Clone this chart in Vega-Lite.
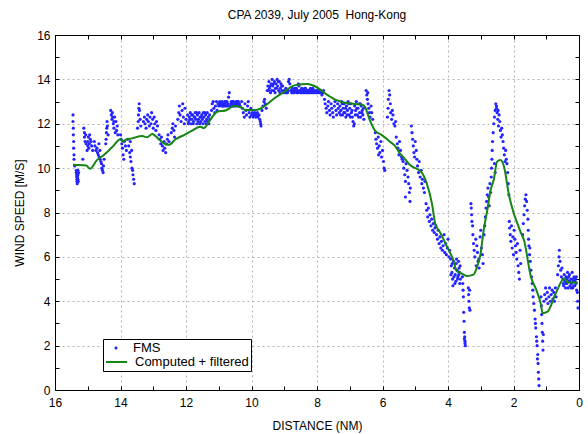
{
  "$schema": "https://vega.github.io/schema/vega-lite/v6.json",
  "width": 524,
  "height": 355,
  "autosize": "none",
  "padding": {"left": 55, "top": 35, "right": 9, "bottom": 44},
  "background": "white",
  "title": {"text": "CPA 2039, July 2005\u00a0 Hong-Kong", "fontSize": 12, "fontWeight": "normal", "font": "Liberation Sans", "color": "black", "offset": 7},
  "config": {"font": "Liberation Sans", "view": {"stroke": "black"}},
  "datasets": {
    "fms": [
      {"d":15.45,"s":12.4},{"d":15.45,"s":12.1},{"d":15.44,"s":11.8},{"d":15.44,"s":11.5},{"d":15.43,"s":11.2},{"d":15.43,"s":10.9},{"d":15.42,"s":10.6},{"d":15.42,"s":10.4},{"d":15.4,"s":10.1},{"d":15.35,"s":9.9},{"d":15.35,"s":9.8},{"d":15.34,"s":9.7},{"d":15.34,"s":9.6},{"d":15.33,"s":9.5},{"d":15.33,"s":9.4},{"d":15.32,"s":9.3},{"d":15.3,"s":9.9},{"d":15.3,"s":9.7},{"d":15.3,"s":9.5},{"d":15.29,"s":9.4},{"d":15.31,"s":9.6},{"d":15.28,"s":9.8},
      {"d":15.15,"s":10.4},{"d":15.12,"s":11.8},{"d":15.1,"s":11.6},{"d":15.1,"s":11.4},{"d":15.08,"s":11.2},{"d":15.05,"s":11.1},{"d":15.02,"s":10.8},{"d":15.0,"s":11.2},{"d":15.0,"s":11.0},{"d":14.98,"s":11.4},{"d":14.97,"s":10.9},{"d":14.95,"s":11.1},{"d":14.92,"s":11.3},{"d":14.9,"s":11.2},{"d":14.88,"s":11.0},{"d":14.85,"s":10.8},{"d":15.06,"s":11.5},{"d":14.94,"s":11.5},
      {"d":14.8,"s":11.2},{"d":14.78,"s":11.0},{"d":14.75,"s":10.8},{"d":14.72,"s":10.9},{"d":14.7,"s":10.7},{"d":14.68,"s":10.6},{"d":14.66,"s":11.1},{"d":14.65,"s":10.5},{"d":14.63,"s":10.8},{"d":14.62,"s":10.4},{"d":14.6,"s":10.3},{"d":14.58,"s":10.2},{"d":14.57,"s":10.0},{"d":14.55,"s":9.9},{"d":14.53,"s":9.8},{"d":14.52,"s":10.1},{"d":14.5,"s":10.4},
      {"d":14.45,"s":11.1},{"d":14.44,"s":11.3},{"d":14.43,"s":11.6},{"d":14.42,"s":11.8},{"d":14.41,"s":12.1},{"d":14.4,"s":11.9},{"d":14.38,"s":11.5},
      {"d":14.3,"s":12.6},{"d":14.28,"s":12.4},{"d":14.26,"s":12.2},{"d":14.25,"s":12.5},{"d":14.22,"s":12.0},{"d":14.2,"s":11.8},{"d":14.18,"s":12.3},{"d":14.16,"s":11.6},{"d":14.14,"s":12.1},{"d":14.12,"s":11.7},{"d":14.1,"s":11.9},{"d":14.08,"s":11.5},{"d":14.24,"s":12.3},{"d":14.2,"s":12.1},
      {"d":14.0,"s":11.5},{"d":13.98,"s":11.3},{"d":13.96,"s":11.1},{"d":13.94,"s":10.9},{"d":13.92,"s":10.6},{"d":13.9,"s":10.4},{"d":13.88,"s":11.2},{"d":13.85,"s":11.0},{"d":13.82,"s":10.8},
      {"d":13.78,"s":11.3},{"d":13.75,"s":11.0},{"d":13.72,"s":10.7},{"d":13.7,"s":10.5},{"d":13.7,"s":11.2},{"d":13.68,"s":10.3},{"d":13.66,"s":10.8},{"d":13.65,"s":10.0},{"d":13.63,"s":9.9},{"d":13.62,"s":9.7},{"d":13.6,"s":9.5},{"d":13.58,"s":9.3},
      {"d":13.48,"s":11.8},{"d":13.46,"s":12.1},{"d":13.45,"s":12.4},{"d":13.44,"s":12.7},{"d":13.43,"s":12.9},{"d":13.42,"s":12.6},{"d":13.4,"s":12.2},{"d":13.38,"s":11.9},
      {"d":13.3,"s":12.1},{"d":13.27,"s":12.3},{"d":13.25,"s":12.0},{"d":13.22,"s":11.8},{"d":13.2,"s":12.2},{"d":13.17,"s":12.4},{"d":13.15,"s":12.1},{"d":13.12,"s":11.9},{"d":13.1,"s":12.3},{"d":13.07,"s":12.0},{"d":13.05,"s":12.5},{"d":13.02,"s":12.2},{"d":13.0,"s":11.8},{"d":12.97,"s":12.3},{"d":12.95,"s":12.0},{"d":12.92,"s":11.7},{"d":12.9,"s":12.1},{"d":12.87,"s":11.9},
      {"d":12.82,"s":11.5},{"d":12.8,"s":11.3},{"d":12.77,"s":11.1},{"d":12.75,"s":11.4},{"d":12.72,"s":11.0},{"d":12.7,"s":10.8},{"d":12.67,"s":11.2},{"d":12.65,"s":10.9},{"d":12.62,"s":10.7},{"d":12.6,"s":11.1},{"d":12.57,"s":11.3},{"d":12.55,"s":11.5},{"d":12.52,"s":11.2},
      {"d":12.45,"s":11.6},{"d":12.42,"s":11.8},{"d":12.4,"s":12.0},{"d":12.37,"s":11.7},{"d":12.35,"s":11.4},{"d":12.32,"s":11.9},
      {"d":12.25,"s":12.2},{"d":12.22,"s":12.5},{"d":12.2,"s":12.8},{"d":12.18,"s":12.4},{"d":12.15,"s":12.1},{"d":12.12,"s":12.6},{"d":12.1,"s":12.9},{"d":12.08,"s":12.3},{"d":12.05,"s":12.0},{"d":12.03,"s":12.7},{"d":12.0,"s":12.2},
      {"d":11.95,"s":12.4},{"d":11.92,"s":12.1},{"d":11.9,"s":12.3},{"d":11.87,"s":12.5},{"d":11.85,"s":12.0},{"d":11.82,"s":12.2},{"d":11.8,"s":12.4},{"d":11.77,"s":12.1},{"d":11.75,"s":12.3},{"d":11.72,"s":12.5},{"d":11.7,"s":12.2},{"d":11.67,"s":12.0},{"d":11.65,"s":12.4},{"d":11.62,"s":12.2},{"d":11.6,"s":12.5},{"d":11.57,"s":12.3},{"d":11.55,"s":12.1},{"d":11.52,"s":12.4},{"d":11.5,"s":12.2},{"d":11.47,"s":12.5},{"d":11.45,"s":12.3},{"d":11.42,"s":12.1},{"d":11.4,"s":12.4},{"d":11.37,"s":12.2},{"d":11.35,"s":12.5},{"d":11.32,"s":12.3},{"d":11.3,"s":12.0},{"d":11.27,"s":12.2},
      {"d":11.93,"s":12.0},{"d":11.88,"s":12.2},{"d":11.83,"s":12.4},{"d":11.78,"s":12.0},{"d":11.73,"s":12.3},{"d":11.68,"s":12.5},{"d":11.63,"s":12.1},{"d":11.58,"s":12.0},{"d":11.53,"s":12.3},{"d":11.48,"s":12.0},{"d":11.43,"s":12.5},{"d":11.38,"s":12.0},{"d":11.33,"s":12.1},{"d":11.28,"s":12.4},
      {"d":11.22,"s":12.6},{"d":11.2,"s":12.9},{"d":11.17,"s":13.0},{"d":11.15,"s":12.7},{"d":11.12,"s":12.5},{"d":11.1,"s":12.8},{"d":11.07,"s":13.0},{"d":11.05,"s":12.6},
      {"d":11.02,"s":12.9},{"d":11.0,"s":12.8},{"d":10.97,"s":13.0},{"d":10.95,"s":12.9},{"d":10.92,"s":12.8},{"d":10.9,"s":13.0},{"d":10.87,"s":12.9},{"d":10.85,"s":12.8},{"d":10.82,"s":13.0},{"d":10.8,"s":12.9},{"d":10.77,"s":12.8},{"d":10.75,"s":13.0},{"d":10.72,"s":12.9},{"d":10.7,"s":13.2},{"d":10.68,"s":13.4},{"d":10.65,"s":12.8},{"d":10.62,"s":13.0},{"d":10.6,"s":12.9},{"d":10.57,"s":12.8},{"d":10.55,"s":13.0},{"d":10.52,"s":12.9},{"d":10.5,"s":12.8},{"d":10.47,"s":13.0},{"d":10.45,"s":12.9},{"d":10.42,"s":12.8},{"d":10.4,"s":13.0},{"d":10.37,"s":12.9},{"d":10.35,"s":12.8},
      {"d":10.99,"s":12.9},{"d":10.93,"s":12.9},{"d":10.88,"s":12.8},{"d":10.83,"s":12.8},{"d":10.78,"s":13.0},{"d":10.73,"s":12.8},{"d":10.63,"s":12.9},{"d":10.58,"s":13.0},{"d":10.53,"s":12.8},{"d":10.48,"s":12.9},{"d":10.43,"s":13.0},{"d":10.38,"s":12.8},
      {"d":10.3,"s":13.0},{"d":10.28,"s":12.7},{"d":10.25,"s":12.5},{"d":10.22,"s":12.3},{"d":10.2,"s":12.9},{"d":10.17,"s":12.6},{"d":10.15,"s":12.4},{"d":10.12,"s":12.8},{"d":10.1,"s":13.0},{"d":10.07,"s":12.5},{"d":10.05,"s":12.3},{"d":10.02,"s":12.7},
      {"d":10.0,"s":12.4},{"d":9.97,"s":12.5},{"d":9.95,"s":12.3},{"d":9.92,"s":12.4},{"d":9.9,"s":12.5},{"d":9.87,"s":12.3},{"d":9.85,"s":12.4},{"d":9.82,"s":12.5},{"d":9.8,"s":12.3},{"d":9.77,"s":12.4},{"d":9.75,"s":12.2},{"d":9.73,"s":12.1},{"d":9.72,"s":12.0},{"d":9.71,"s":11.9},
      {"d":9.68,"s":12.6},{"d":9.65,"s":12.8},{"d":9.62,"s":13.0},{"d":9.6,"s":13.1},{"d":9.58,"s":12.9},{"d":9.55,"s":12.7},
      {"d":9.52,"s":13.5},{"d":9.5,"s":13.7},{"d":9.47,"s":13.9},{"d":9.45,"s":13.6},{"d":9.42,"s":13.4},{"d":9.4,"s":13.8},{"d":9.37,"s":14.0},{"d":9.35,"s":13.7},{"d":9.32,"s":13.5},{"d":9.3,"s":13.9},{"d":9.27,"s":13.6},{"d":9.25,"s":13.8},{"d":9.22,"s":14.0},{"d":9.2,"s":13.7},{"d":9.17,"s":13.5},{"d":9.15,"s":13.9},{"d":9.12,"s":13.6},{"d":9.1,"s":13.8},{"d":9.07,"s":13.5},{"d":9.05,"s":13.7},{"d":9.02,"s":13.4},
      {"d":9.48,"s":13.5},{"d":9.43,"s":13.7},{"d":9.38,"s":13.5},{"d":9.33,"s":13.8},{"d":9.28,"s":13.4},{"d":9.23,"s":13.6},{"d":9.18,"s":13.9},{"d":9.13,"s":13.4},{"d":9.08,"s":13.7},
      {"d":9.0,"s":13.5},{"d":8.97,"s":13.4},{"d":8.95,"s":13.6},{"d":8.92,"s":13.5},{"d":8.9,"s":13.4},{"d":8.87,"s":13.9},{"d":8.85,"s":14.0},{"d":8.83,"s":13.8},{"d":8.8,"s":13.5},{"d":8.77,"s":13.4},{"d":8.75,"s":13.6},{"d":8.72,"s":13.5},{"d":8.7,"s":13.4},{"d":8.67,"s":13.6},{"d":8.65,"s":13.5},{"d":8.62,"s":13.4},{"d":8.6,"s":13.5},{"d":8.57,"s":13.8},{"d":8.55,"s":13.7},{"d":8.52,"s":13.5},{"d":8.5,"s":13.4},{"d":8.47,"s":13.6},{"d":8.45,"s":13.5},{"d":8.42,"s":13.4},{"d":8.4,"s":13.5},{"d":8.37,"s":13.4},{"d":8.35,"s":13.6},{"d":8.32,"s":13.5},{"d":8.3,"s":13.4},{"d":8.27,"s":13.5},{"d":8.25,"s":13.4},{"d":8.22,"s":13.5},{"d":8.2,"s":13.6},{"d":8.17,"s":13.4},{"d":8.15,"s":13.5},{"d":8.12,"s":13.4},{"d":8.1,"s":13.5},
      {"d":8.98,"s":13.5},{"d":8.93,"s":13.4},{"d":8.88,"s":13.5},{"d":8.78,"s":13.5},{"d":8.73,"s":13.4},{"d":8.68,"s":13.5},{"d":8.63,"s":13.6},{"d":8.58,"s":13.4},{"d":8.53,"s":13.5},{"d":8.48,"s":13.4},{"d":8.43,"s":13.5},{"d":8.38,"s":13.6},{"d":8.33,"s":13.4},{"d":8.28,"s":13.5},{"d":8.23,"s":13.4},{"d":8.18,"s":13.5},{"d":8.13,"s":13.6},
      {"d":8.07,"s":13.4},{"d":8.05,"s":13.5},{"d":8.02,"s":13.4},{"d":8.0,"s":13.5},{"d":7.97,"s":13.4},{"d":7.95,"s":13.5},{"d":7.92,"s":13.4},{"d":7.9,"s":13.5},{"d":7.87,"s":13.4},{"d":7.85,"s":13.3},{"d":7.82,"s":13.4},{"d":7.8,"s":13.5},
      {"d":7.77,"s":13.1},{"d":7.75,"s":12.9},{"d":7.72,"s":12.7},{"d":7.7,"s":12.5},{"d":7.67,"s":12.8},{"d":7.65,"s":13.0},{"d":7.62,"s":12.6},{"d":7.6,"s":12.4},{"d":7.57,"s":12.9},{"d":7.55,"s":12.7},{"d":7.52,"s":12.5},{"d":7.5,"s":12.3},{"d":7.47,"s":12.8},{"d":7.45,"s":13.0},{"d":7.42,"s":12.6},{"d":7.4,"s":12.4},{"d":7.37,"s":12.9},{"d":7.35,"s":12.7},{"d":7.32,"s":12.5},
      {"d":7.3,"s":12.8},{"d":7.27,"s":12.6},{"d":7.25,"s":13.0},{"d":7.22,"s":12.4},{"d":7.2,"s":12.7},{"d":7.17,"s":12.9},{"d":7.15,"s":12.5},{"d":7.12,"s":12.3},{"d":7.1,"s":12.8},{"d":7.07,"s":12.6},{"d":7.05,"s":13.0},{"d":7.02,"s":12.4},{"d":7.0,"s":12.7},{"d":6.97,"s":12.9},{"d":6.95,"s":12.5},{"d":6.92,"s":12.3},{"d":6.9,"s":12.1},{"d":6.88,"s":11.9},{"d":6.86,"s":12.0},{"d":6.85,"s":12.8},{"d":6.82,"s":12.6},{"d":6.8,"s":13.0},{"d":6.77,"s":12.4},{"d":6.75,"s":12.7},{"d":6.72,"s":12.9},{"d":6.7,"s":12.5},{"d":6.67,"s":12.3},{"d":6.65,"s":12.8},{"d":6.62,"s":12.6},{"d":6.6,"s":12.4},{"d":6.57,"s":12.2},
      {"d":7.28,"s":12.4},{"d":7.23,"s":12.9},{"d":7.18,"s":12.5},{"d":7.13,"s":12.7},{"d":7.08,"s":12.4},{"d":7.03,"s":12.9},{"d":6.98,"s":12.3},{"d":6.93,"s":12.6},{"d":6.83,"s":12.4},{"d":6.78,"s":12.7},{"d":6.73,"s":12.3},{"d":6.68,"s":12.9},{"d":6.63,"s":12.5},{"d":6.58,"s":12.7},
      {"d":6.5,"s":13.5},{"d":6.48,"s":13.3},{"d":6.46,"s":13.1},{"d":6.45,"s":13.4},{"d":6.44,"s":12.9},{"d":6.42,"s":12.7},{"d":6.4,"s":12.5},{"d":6.38,"s":12.3},{"d":6.35,"s":12.8},{"d":6.33,"s":12.5},{"d":6.3,"s":12.2},
      {"d":6.22,"s":11.6},{"d":6.2,"s":11.3},{"d":6.18,"s":11.1},{"d":6.15,"s":10.9},{"d":6.13,"s":11.4},{"d":6.12,"s":10.6},{"d":6.1,"s":11.0},{"d":6.08,"s":10.7},{"d":6.05,"s":11.2},{"d":6.03,"s":10.5},{"d":6.0,"s":10.8},{"d":5.97,"s":10.3},{"d":5.95,"s":10.0},{"d":5.93,"s":9.9},
      {"d":5.85,"s":12.3},{"d":5.83,"s":12.7},{"d":5.82,"s":13.1},{"d":5.8,"s":13.5},{"d":5.78,"s":13.3},{"d":5.76,"s":12.9},{"d":5.75,"s":12.5},{"d":5.72,"s":12.2},{"d":5.7,"s":12.6},{"d":5.68,"s":12.4},{"d":5.65,"s":12.0},{"d":5.62,"s":11.9},{"d":5.6,"s":12.1},
      {"d":5.58,"s":11.4},{"d":5.55,"s":11.1},{"d":5.53,"s":10.9},{"d":5.5,"s":10.6},{"d":5.48,"s":11.2},{"d":5.45,"s":10.8},{"d":5.42,"s":10.5},{"d":5.4,"s":10.4},
      {"d":5.37,"s":10.3},{"d":5.35,"s":10.0},{"d":5.32,"s":9.7},{"d":5.3,"s":9.4},{"d":5.3,"s":8.7},{"d":5.28,"s":10.2},{"d":5.25,"s":9.9},{"d":5.22,"s":9.6},{"d":5.2,"s":9.3},{"d":5.18,"s":8.9},{"d":5.16,"s":8.5},{"d":5.15,"s":9.1},
      {"d":5.12,"s":11.9},{"d":5.1,"s":11.6},{"d":5.08,"s":11.3},{"d":5.06,"s":11.0},{"d":5.04,"s":10.7},{"d":5.02,"s":10.5},{"d":5.0,"s":11.2},
      {"d":4.97,"s":10.8},{"d":4.95,"s":10.4},{"d":4.93,"s":10.1},{"d":4.9,"s":9.8},{"d":4.88,"s":10.3},{"d":4.85,"s":9.6},{"d":4.82,"s":9.9},{"d":4.8,"s":9.3},{"d":4.78,"s":9.5},{"d":4.75,"s":9.1},{"d":4.72,"s":8.9},{"d":4.7,"s":9.4},
      {"d":4.67,"s":8.4},{"d":4.65,"s":8.1},{"d":4.62,"s":7.8},{"d":4.6,"s":8.2},{"d":4.57,"s":7.6},{"d":4.55,"s":7.9},{"d":4.52,"s":7.4},{"d":4.5,"s":7.7},{"d":4.47,"s":7.2},{"d":4.45,"s":7.5},{"d":4.42,"s":7.1},{"d":4.4,"s":7.3},
      {"d":4.37,"s":7.4},{"d":4.35,"s":7.0},{"d":4.32,"s":6.8},{"d":4.3,"s":7.2},{"d":4.27,"s":6.6},{"d":4.25,"s":6.9},{"d":4.22,"s":6.4},{"d":4.2,"s":6.7},{"d":4.17,"s":6.3},{"d":4.15,"s":6.5},{"d":4.12,"s":7.0},{"d":4.1,"s":6.2},{"d":4.07,"s":6.6},{"d":4.05,"s":6.1},{"d":4.02,"s":6.4},{"d":4.0,"s":6.8},{"d":3.97,"s":6.0},{"d":3.95,"s":6.3},
      {"d":3.92,"s":5.9},{"d":3.9,"s":5.6},{"d":3.88,"s":5.3},{"d":3.86,"s":5.0},{"d":3.85,"s":4.7},{"d":3.83,"s":5.8},{"d":3.8,"s":5.5},{"d":3.78,"s":5.2},{"d":3.76,"s":4.9},{"d":3.75,"s":5.7},{"d":3.72,"s":5.4},{"d":3.7,"s":5.1},{"d":3.68,"s":5.8},{"d":3.66,"s":5.5},{"d":3.65,"s":5.3},{"d":3.63,"s":5.6},{"d":3.62,"s":5.0},
      {"d":3.91,"s":5.2},{"d":3.87,"s":5.7},{"d":3.82,"s":5.1},{"d":3.79,"s":4.8},{"d":3.74,"s":5.9},{"d":3.71,"s":5.0},{"d":3.67,"s":5.2},{"d":3.64,"s":4.8},
      {"d":3.56,"s":5.1},{"d":3.55,"s":4.8},{"d":3.54,"s":4.5},{"d":3.53,"s":4.2},{"d":3.52,"s":3.5},{"d":3.51,"s":3.1},{"d":3.5,"s":2.6},{"d":3.5,"s":2.3},{"d":3.49,"s":2.4},{"d":3.48,"s":2.2},{"d":3.48,"s":2.1},{"d":3.47,"s":2.0},
      {"d":3.38,"s":4.6},{"d":3.37,"s":4.3},{"d":3.36,"s":4.0},{"d":3.35,"s":3.7},{"d":3.34,"s":4.5},{"d":3.33,"s":3.6},
      {"d":3.3,"s":8.4},{"d":3.29,"s":8.2},{"d":3.28,"s":7.9},{"d":3.27,"s":7.6},{"d":3.25,"s":7.4},
      {"d":3.24,"s":7.0},{"d":3.22,"s":6.6},{"d":3.2,"s":6.3},{"d":3.18,"s":6.0},{"d":3.15,"s":6.8},{"d":3.14,"s":5.6},{"d":3.12,"s":6.5},{"d":3.1,"s":6.2},{"d":3.08,"s":5.8},{"d":3.06,"s":5.9},{"d":3.05,"s":5.5},{"d":3.02,"s":6.9},{"d":3.0,"s":7.2},{"d":2.98,"s":6.4},{"d":2.95,"s":6.1},{"d":2.93,"s":5.7},
      {"d":2.9,"s":7.0},{"d":2.88,"s":7.4},{"d":2.86,"s":7.8},{"d":2.84,"s":8.2},{"d":2.82,"s":8.5},{"d":2.8,"s":8.8},{"d":2.78,"s":9.1},{"d":2.76,"s":8.7},{"d":2.74,"s":8.3},{"d":2.72,"s":9.3},{"d":2.7,"s":8.9},
      {"d":2.68,"s":9.6},{"d":2.67,"s":10.0},{"d":2.66,"s":10.4},{"d":2.65,"s":10.8},{"d":2.64,"s":11.2},{"d":2.62,"s":11.6},{"d":2.6,"s":12.0},{"d":2.58,"s":10.2},{"d":2.56,"s":9.8},
      {"d":2.58,"s":12.3},{"d":2.56,"s":12.6},{"d":2.54,"s":12.9},{"d":2.52,"s":12.7},{"d":2.52,"s":12.8},{"d":2.5,"s":12.5},{"d":2.48,"s":12.2},{"d":2.47,"s":12.6},{"d":2.46,"s":11.9},{"d":2.44,"s":12.4},{"d":2.42,"s":12.1},{"d":2.4,"s":11.7},{"d":2.38,"s":11.4},{"d":2.36,"s":11.8},{"d":2.34,"s":11.5},
      {"d":2.32,"s":11.2},{"d":2.3,"s":10.9},{"d":2.28,"s":10.6},{"d":2.26,"s":10.3},{"d":2.24,"s":10.8},{"d":2.22,"s":10.4},{"d":2.2,"s":10.2},{"d":2.18,"s":9.8},{"d":2.16,"s":9.3},{"d":2.14,"s":8.8},
      {"d":2.13,"s":7.6},{"d":2.12,"s":7.3},{"d":2.1,"s":7.0},{"d":2.08,"s":6.7},{"d":2.06,"s":7.4},{"d":2.04,"s":6.4},{"d":2.02,"s":6.9},{"d":2.0,"s":6.1},
      {"d":1.98,"s":7.2},{"d":1.96,"s":6.8},{"d":1.94,"s":6.5},{"d":1.92,"s":6.2},{"d":1.9,"s":5.9},{"d":1.88,"s":6.6},{"d":1.86,"s":5.6},{"d":1.84,"s":5.3},{"d":1.82,"s":5.0},{"d":1.8,"s":6.3},{"d":1.78,"s":5.7},
      {"d":1.72,"s":7.0},{"d":1.7,"s":7.5},{"d":1.68,"s":7.9},{"d":1.66,"s":8.3},{"d":1.64,"s":8.6},{"d":1.62,"s":8.8},{"d":1.6,"s":8.5},{"d":1.58,"s":8.1},{"d":1.56,"s":7.7},{"d":1.55,"s":7.2},{"d":1.54,"s":6.8},
      {"d":1.53,"s":6.5},{"d":1.51,"s":6.1},{"d":1.5,"s":6.4},{"d":1.49,"s":5.8},{"d":1.47,"s":5.4},{"d":1.45,"s":5.1},{"d":1.43,"s":4.8},{"d":1.41,"s":4.5},
      {"d":1.4,"s":4.2},{"d":1.38,"s":3.9},{"d":1.36,"s":3.6},{"d":1.34,"s":3.2},{"d":1.33,"s":3.0},{"d":1.32,"s":2.8},{"d":1.3,"s":2.4},{"d":1.29,"s":2.2},{"d":1.28,"s":2.0},{"d":1.27,"s":1.4},{"d":1.26,"s":1.6},{"d":1.25,"s":1.2},{"d":1.24,"s":0.8},{"d":1.23,"s":0.5},{"d":1.22,"s":0.2},
      {"d":1.16,"s":4.2},{"d":1.15,"s":3.8},{"d":1.14,"s":3.4},{"d":1.13,"s":3.0},{"d":1.12,"s":2.6},{"d":1.11,"s":2.2},{"d":1.1,"s":1.8},{"d":1.09,"s":2.5},
      {"d":1.07,"s":4.0},{"d":1.05,"s":4.3},{"d":1.02,"s":4.6},{"d":1.0,"s":4.1},{"d":0.97,"s":4.4},{"d":0.95,"s":3.9},{"d":0.92,"s":4.2},{"d":0.9,"s":4.6},{"d":0.87,"s":4.0},{"d":0.85,"s":4.3},{"d":0.82,"s":4.5},{"d":0.8,"s":4.1},{"d":0.77,"s":4.4},{"d":0.75,"s":4.0},{"d":0.72,"s":4.6},{"d":0.7,"s":4.2},
      {"d":0.65,"s":5.2},{"d":0.63,"s":5.6},{"d":0.61,"s":6.0},{"d":0.6,"s":6.3},{"d":0.58,"s":5.8},{"d":0.56,"s":5.4},{"d":0.54,"s":5.1},{"d":0.52,"s":5.5},
      {"d":0.49,"s":5.0},{"d":0.47,"s":4.7},{"d":0.45,"s":5.2},{"d":0.43,"s":4.9},{"d":0.41,"s":4.6},{"d":0.39,"s":5.1},{"d":0.37,"s":4.8},{"d":0.35,"s":5.3},{"d":0.33,"s":4.6},{"d":0.31,"s":4.9},{"d":0.29,"s":5.2},{"d":0.27,"s":4.7},{"d":0.25,"s":5.0},{"d":0.23,"s":4.8},{"d":0.21,"s":5.3},{"d":0.19,"s":4.6},{"d":0.17,"s":4.9},{"d":0.15,"s":5.1},{"d":0.13,"s":4.7},{"d":0.11,"s":5.0},{"d":0.09,"s":4.8},{"d":0.07,"s":4.5},{"d":0.05,"s":4.4},{"d":0.04,"s":4.0},{"d":0.03,"s":3.7},
      {"d":0.48,"s":4.8},{"d":0.44,"s":5.0},{"d":0.4,"s":4.8},{"d":0.36,"s":5.0},{"d":0.32,"s":5.1},{"d":0.28,"s":4.9},{"d":0.24,"s":4.6},{"d":0.2,"s":5.0},{"d":0.16,"s":4.7},{"d":0.12,"s":4.9},{"d":0.08,"s":5.1}
    ],
    "cf": [
      {"d":15.45,"s":10.15},{"d":15.05,"s":10.12},{"d":14.93,"s":9.97},{"d":14.72,"s":10.36},{"d":14.5,"s":10.6},{"d":14.25,"s":10.95},{"d":14.0,"s":11.3},{"d":13.93,"s":11.2},{"d":13.85,"s":11.27},{"d":13.65,"s":11.34},{"d":13.34,"s":11.45},{"d":13.19,"s":11.39},{"d":13.03,"s":11.54},{"d":12.83,"s":11.3},{"d":12.65,"s":11.1},{"d":12.52,"s":11.05},{"d":12.32,"s":11.3},{"d":12.06,"s":11.49},{"d":11.8,"s":11.7},{"d":11.56,"s":11.87},{"d":11.46,"s":11.8},{"d":11.25,"s":12.2},{"d":11.05,"s":12.54},{"d":10.79,"s":12.6},{"d":10.53,"s":12.8},{"d":10.33,"s":12.75},{"d":10.18,"s":12.62},{"d":9.87,"s":12.62},{"d":9.56,"s":12.84},{"d":9.3,"s":13.15},{"d":9.0,"s":13.44},{"d":8.69,"s":13.73},{"d":8.28,"s":13.79},{"d":8.08,"s":13.7},{"d":7.67,"s":13.29},{"d":7.46,"s":13.1},{"d":7.05,"s":12.92},{"d":6.64,"s":12.87},{"d":6.54,"s":12.77},{"d":6.39,"s":12.17},{"d":6.23,"s":11.69},{"d":6.03,"s":11.5},{"d":5.77,"s":11.19},{"d":5.62,"s":11.0},{"d":5.47,"s":10.67},{"d":5.37,"s":10.51},{"d":5.16,"s":10.14},{"d":4.8,"s":9.8},{"d":4.65,"s":9.32},{"d":4.49,"s":8.4},{"d":4.39,"s":7.5},{"d":4.24,"s":7.1},{"d":4.03,"s":6.46},{"d":3.85,"s":5.9},{"d":3.73,"s":5.35},{"d":3.62,"s":5.28},{"d":3.42,"s":5.14},{"d":3.22,"s":5.2},{"d":3.11,"s":5.56},{"d":3.01,"s":6.1},{"d":2.91,"s":7.21},{"d":2.8,"s":8.11},{"d":2.7,"s":9.0},{"d":2.6,"s":9.5},{"d":2.5,"s":10.29},{"d":2.4,"s":10.37},{"d":2.29,"s":10.07},{"d":2.14,"s":8.8},{"d":2.0,"s":8.0},{"d":1.88,"s":7.5},{"d":1.78,"s":7.1},{"d":1.68,"s":6.76},{"d":1.47,"s":5.11},{"d":1.3,"s":4.5},{"d":1.17,"s":3.9},{"d":1.11,"s":3.46},{"d":0.96,"s":3.53},{"d":0.71,"s":4.36},{"d":0.45,"s":5.03},{"d":0.35,"s":4.84},{"d":0.04,"s":4.84}
    ]
  },
  "layer": [
    {
      "data": {"name": "fms"},
      "mark": {"type": "point", "shape": "circle", "filled": true, "size": 10, "opacity": 1},
      "encoding": {
        "x": {"field": "d", "type": "quantitative", "scale": {"domain": [0, 16], "reverse": true, "nice": false, "zero": false},
          "axis": {"orient": "bottom", "title": "DISTANCE (NM)", "values": [0,1,2,3,4,5,6,7,8,9,10,11,12,13,14,15,16],
            "labelExpr": "datum.value % 2 === 0 ? datum.label : ''",
            "gridOpacity": {"condition": {"test": "datum.value % 2 !== 0", "value": 0}, "value": 1},
            "gridDash": [2, 3], "gridColor": "#b4b4b4", "gridWidth": 1,
            "tickSize": -4, "tickColor": "black", "domainColor": "black", "labelPadding": 11, "labelFontSize": 12, "labelColor": "black", "labelFont": "Liberation Sans",
            "labelFlush": false, "labelOverlap": false, "titleFontSize": 12, "titleFontWeight": "normal", "titleColor": "black", "titleFont": "Liberation Sans", "titlePadding": 12}},
        "y": {"field": "s", "type": "quantitative", "scale": {"domain": [0, 16], "nice": false, "zero": false},
          "axis": {"orient": "left", "title": "WIND SPEED [M/S]", "values": [0,1,2,3,4,5,6,7,8,9,10,11,12,13,14,15,16],
            "labelExpr": "datum.value % 2 === 0 ? datum.label : ''",
            "gridOpacity": {"condition": {"test": "datum.value % 2 !== 0", "value": 0}, "value": 1},
            "gridDash": [2, 3], "gridColor": "#b4b4b4", "gridWidth": 1,
            "tickSize": -4, "tickColor": "black", "domainColor": "black", "labelPadding": 9, "labelFontSize": 12, "labelColor": "black", "labelFont": "Liberation Sans",
            "labelFlush": false, "labelOverlap": false, "titleFontSize": 12, "titleFontWeight": "normal", "titleColor": "black", "titleFont": "Liberation Sans", "titlePadding": 10}},
        "color": {"datum": "FMS", "type": "nominal",
          "scale": {"domain": ["FMS"], "range": ["#2424ff"]},
          "legend": {"title": null, "orient": "none", "legendX": 54, "legendY": 306, "direction": "vertical", "zindex": 3,
            "padding": 0, "strokeColor": null, "fillColor": null,
            "symbolType": "M-0.22,0A0.22,0.22 0 1,0 0.22,0A0.22,0.22 0 1,0 -0.22,0Z", "symbolSize": 196, "symbolStrokeWidth": 0,
            "labelFontSize": 13, "labelFont": "Liberation Sans", "labelColor": "black", "labelOffset": 10}}
      }
    },
    {
      "data": {"name": "cf"},
      "mark": {"type": "line", "strokeWidth": 2, "interpolate": "monotone"},
      "encoding": {
        "x": {"field": "d", "type": "quantitative",
          "axis": {"orient": "top", "title": null, "values": [0,1,2,3,4,5,6,7,8,9,10,11,12,13,14,15,16], "labels": false, "grid": false, "tickSize": -4, "tickColor": "black", "domainColor": "black"}},
        "y": {"field": "s", "type": "quantitative",
          "axis": {"orient": "right", "title": null, "values": [0,1,2,3,4,5,6,7,8,9,10,11,12,13,14,15,16], "labels": false, "grid": false, "tickSize": -4, "tickColor": "black", "domainColor": "black"}},
        "stroke": {"datum": "Computed + filtered", "type": "nominal",
          "scale": {"domain": ["Computed + filtered"], "range": ["#168516"]},
          "legend": {"title": "\u00a0", "titleFontSize": 12, "titlePadding": 1, "orient": "none", "legendX": 48, "legendY": 304, "direction": "vertical", "zindex": 1,
            "padding": 2, "strokeColor": "black", "fillColor": "white", "cornerRadius": 0,
            "symbolType": "M-1,0H2", "symbolSize": 196, "symbolStrokeWidth": 2,
            "labelFontSize": 13, "labelFont": "Liberation Sans", "labelColor": "black", "labelOffset": 14}}
      }
    }
  ],
  "resolve": {"axis": {"x": "independent", "y": "independent"}}
}
